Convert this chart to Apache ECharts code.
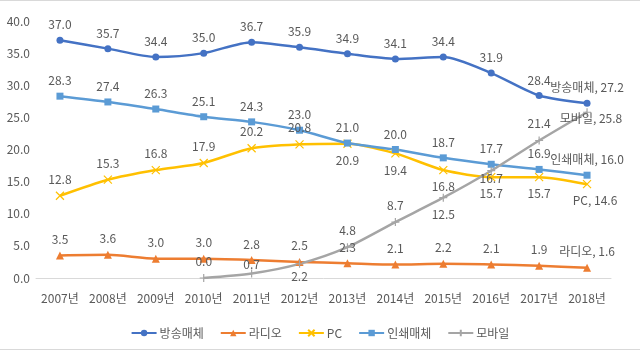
<!DOCTYPE html>
<html>
<head>
<meta charset="utf-8">
<script src="https://cdn.jsdelivr.net/npm/echarts@6/dist/echarts.min.js"></script>
<style>
	html, body { margin: 0; padding: 0; background: #fff; }
	#chart { width: 640px; height: 350px; box-sizing: border-box; border-top: 1px solid #d9d9d9; border-bottom: 1px solid #d9d9d9; }
</style>
</head>
<body>
<div id="chart"></div>
<script>
var years = ['2007년', '2008년', '2009년', '2010년', '2011년', '2012년', '2013년', '2014년', '2015년', '2016년', '2017년', '2018년'];
var broadcast = [37.0, 35.7, 34.4, 35.0, 36.7, 35.9, 34.9, 34.1, 34.4, 31.9, 28.4, 27.2];
var radio = [3.5, 3.6, 3.0, 3.0, 2.8, 2.5, 2.3, 2.1, 2.2, 2.1, 1.9, 1.6];
var pc = [12.8, 15.3, 16.8, 17.9, 20.2, 20.8, 20.9, 19.4, 16.8, 15.7, 15.7, 14.6];
var printMedia = [28.3, 27.4, 26.3, 25.1, 24.3, 23.0, 21.0, 20.0, 18.7, 17.7, 16.9, 16.0];
var mobile = [null, null, null, 0.0, 0.7, 2.2, 4.8, 8.7, 12.5, 16.7, 21.4, 25.8];

var textColor = '#595959';
var font = "'Noto Sans CJK KR', sans-serif";

// label position per point, last point gets "name, value"
var pcPos = ['top', 'top', 'top', 'top', 'top', 'top', 'bottom', 'bottom', 'bottom', 'bottom', 'bottom', 'bottom'];
var mobilePos = [null, null, null, 'top', 'top', 'bottom', 'top', 'top', 'bottom', 'bottom', 'top', 'inside'];

function buildData(name, values, positions, lastOpt) {
	return values.map(function(v, i) {
		if (v === null) return null;
		var pos = positions ? positions[i] : 'top';
		var label = { position: pos };
		if (name == '모바일' && i == 4) label.distance = -2;
		if (name == '모바일' && i == 5) label.distance = 2;
		if (name == '모바일' && i == 9) label.distance = -3;
		if (i == values.length - 1) {
			label.formatter = name + ', ' + v.toFixed(1);
			if (lastOpt) Object.assign(label, lastOpt);
		}
		return { value: v, label: label };
	});
}

function makeSeries(name, color, values, symbol, size, positions, lastOpt, extraItem) {
	var item = { color: color };
	if (extraItem) Object.assign(item, extraItem);
	return {
		name: name,
		type: 'line',
		smooth: 0.25,
		symbol: symbol,
		symbolSize: size,
		data: buildData(name, values, positions, lastOpt),
		lineStyle: { color: color, width: 2.5 },
		itemStyle: item,
		label: {
			show: true,
			color: textColor,
			fontFamily: font,
			fontSize: 12,
			distance: 6,
			formatter: function(p) { return p.value.toFixed(1); }
		}
	};
}

var chart = echarts.init(document.getElementById('chart'));
chart.setOption({
	animation: false,
	textStyle: { fontFamily: font },
	grid: { left: 36, right: 29, top: 20, bottom: 71, containLabel: false },
	legend: {
		bottom: 5,
		itemWidth: 25,
		itemHeight: 8,
		itemGap: 16,
		textStyle: { color: textColor, fontSize: 12, fontFamily: font, padding: [0, 0, 0, -2] },
		data: ['방송매체', '라디오', 'PC', '인쇄매체', '모바일']
	},
	xAxis: {
		type: 'category',
		data: years,
		axisLine: { show: true, lineStyle: { color: '#d9d9d9', width: 1 } },
		axisTick: { show: false },
		axisLabel: { color: textColor, fontSize: 12, margin: 14, interval: 0, fontFamily: font }
	},
	yAxis: {
		type: 'value',
		min: 0,
		max: 40,
		interval: 5,
		axisLine: { show: false },
		axisTick: { show: false },
		splitLine: { show: false },
		axisLabel: { color: textColor, fontSize: 12, margin: 6, fontFamily: font, formatter: function(v) { return v.toFixed(1); } }
	},
	series: [
		makeSeries('방송매체', '#4472C4', broadcast, 'circle', 7, null, null),
		makeSeries('라디오', '#ED7D31', radio, 'triangle', 8, null, null),
		makeSeries('PC', '#FFC000', pc, 'path://M0,0L10,10M10,0L0,10', 8, pcPos, { offset: [8, 0] }, { borderColor: '#FFC000', borderWidth: 1.2 }),
		makeSeries('인쇄매체', '#5B9BD5', printMedia, 'rect', 7, null, null),
		makeSeries('모바일', '#A5A5A5', mobile, 'path://M5,0L5,10M0,5L10,5', 8, mobilePos, { offset: [4, 6] }, { borderColor: '#A5A5A5', borderWidth: 1.2 })
	]
});
</script>
</body>
</html>
